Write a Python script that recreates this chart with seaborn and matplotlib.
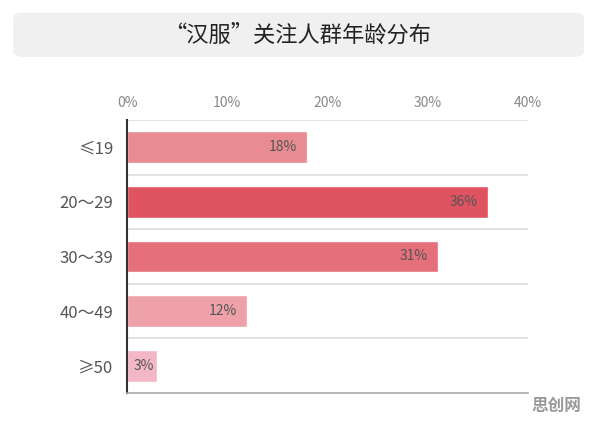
import matplotlib
matplotlib.use('Agg')
import matplotlib.pyplot as plt
from matplotlib.patches import FancyBboxPatch
import seaborn as sns
import pandas as pd

title = '“汉服”关注人群年龄分布'
age_groups = ['≤19', '20～29', '30～39', '40～49', '≥50']
shares = [18, 36, 31, 12, 3]
bar_colors = ['#e98b92', '#e05361', '#e56f7a', '#eea1a9', '#f4b7c7']
x_ticks = [0, 10, 20, 30, 40]

sns.set_style('white')
plt.rcParams['font.family'] = ['Noto Sans CJK SC', 'DejaVu Sans']

df = pd.DataFrame({'age': age_groups, 'share': shares})

fig = plt.figure(figsize=(5.96, 4.21), dpi=100)

# title box
box = FancyBboxPatch((0.022, 0.865), 0.958, 0.105, boxstyle='round,pad=0,rounding_size=0.015',
                     transform=fig.transFigure, facecolor='#f0f0f0', edgecolor='none')
fig.patches.append(box)
fig.text(0.5, 0.917, title, ha='center', va='center', fontsize=16, color='#222222')

ax = fig.add_axes([0.2131, 0.0665, 0.6728, 0.6485])
sns.barplot(data=df, y='age', x='share', hue='age', palette=bar_colors,
            legend=False, width=0.58, saturation=1, ax=ax)

ax.set_xlim(0, 40)
ax.set_ylim(4.5, -0.5)
ax.set_xticks(x_ticks)
ax.set_xticklabels([f'{t}%' for t in x_ticks])
ax.xaxis.tick_top()
ax.tick_params(axis='x', length=0, pad=7, labelsize=10, labelcolor='#888888')
ax.tick_params(axis='y', length=0, pad=10, labelsize=12, labelcolor='#555555')
ax.set_xlabel('')
ax.set_ylabel('')

# horizontal separators between categories
for y in [-0.5, 0.5, 1.5, 2.5, 3.5]:
    ax.axhline(y, color='#dddddd', lw=1.2, zorder=0)

for s in ['top', 'right']:
    ax.spines[s].set_visible(False)
ax.spines['left'].set_color('#333333')
ax.spines['left'].set_linewidth(1.5)
ax.spines['bottom'].set_color('#aaaaaa')
ax.spines['bottom'].set_linewidth(1.2)

for i, v in enumerate(shares):
    ax.text(v - 1.0 if v > 5 else v - 0.3, i, f'{v}%', ha='right', va='center',
            fontsize=10, color='#555555')

fig.text(0.975, 0.035, '思创网', ha='right', va='center', fontsize=12,
         fontweight='bold', color='#999999')

fig.savefig('out.png', dpi=100)
